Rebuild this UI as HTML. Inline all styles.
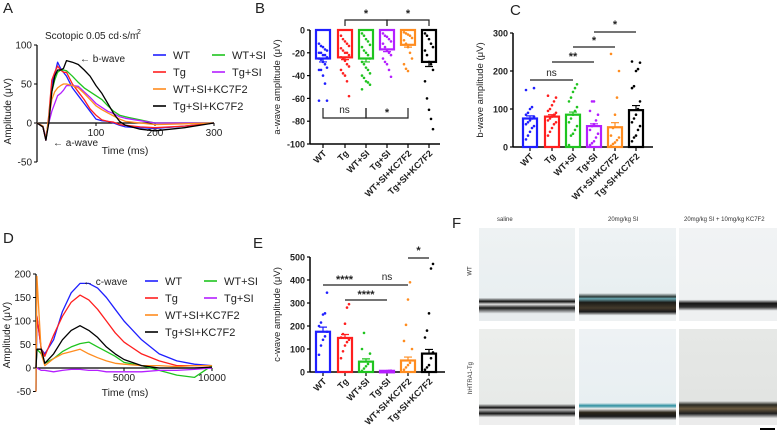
<!DOCTYPE html>
<html><head><meta charset="utf-8"><style>
body{margin:0;background:#fff;width:777px;height:432px;overflow:hidden;font-family:"Liberation Sans",Arial,sans-serif}
svg{position:absolute;left:0;top:0}
.img{position:absolute;overflow:hidden}
</style></head><body>
<svg id="fig" width="777" height="432" viewBox="0 0 777 432"></svg>
<script>
// ===== data =====
const groups=["WT","Tg","WT+SI","Tg+SI","WT+SI+KC7F2","Tg+SI+KC7F2"];
const colors=["#1f1fff","#ff1f1f","#1fc41f","#b41fff","#ff8c1f","#000000"];
// Panel A traces
const timeA=[0,10,15,20,25,30,35,40,45,50,60,70,80,90,100,110,120,130,140,150,175,200,250,300];
const aWT=[0,-5,-22,5,50,62,78,70,65,60,45,35,25,15,5,3,2,0,-3,-5,-6,-7,-4,0];
const aTg=[0,-5,-22,10,55,65,73,68,65,65,50,40,30,18,10,4,2,1,-2,-3,-5,-6,-4,0];
const aWTSI=[0,-4,-20,5,40,55,65,68,68,67,60,52,45,40,35,30,22,15,10,8,4,0,0,0];
const aTgSI=[0,-4,-18,0,15,25,35,38,42,48,48,47,40,33,25,20,15,12,8,6,3,0,0,0];
const aWTSIK=[0,-4,-20,5,30,40,45,48,50,50,48,45,38,30,22,17,13,9,5,2,0,-2,-1,0];
const aTgSIK=[0,-5,-22,0,40,60,68,68,70,80,78,75,68,60,48,38,25,12,2,-3,-8,-10,-6,0];
const ticksA=[100,200,300], yticksA=[100,50,0,-50];
// Panel D traces
const timeD=[0,50,300,500,1000,1500,2000,2500,3000,3500,4000,4500,5000,6000,7000,8000,9000,10000];
const dWT=[-50,110,40,30,60,120,160,180,180,170,150,125,100,60,30,15,8,5];
const dTg=[0,110,40,25,70,110,140,155,145,125,100,75,55,30,15,5,5,5];
const dWTSI=[0,40,30,10,20,35,45,52,55,45,35,25,12,5,-5,-15,-20,5];
const dTgSI=[0,0,-5,-5,-8,-5,-3,-3,-5,-5,-8,-8,-8,-8,-5,-5,-3,0];
const dWTSIK=[-50,195,30,5,20,30,35,40,30,22,15,10,8,5,5,3,5,5];
const dTgSIK=[0,40,40,10,30,60,80,90,80,65,45,30,18,5,0,0,0,2];
const ticksD=[5000,10000], yticksD=[200,150,100,50,0,-50];
// Panel B (a-wave) bars
const meanB=[-25,-24,-25,-17,-13,-28];
const semB=[3,2,3,2,2,4];
const dotsB=[[-12,-14,-15,-17,-18,-20,-20,-22,-22,-24,-25,-26,-28,-30,-33,-35,-35,-40,-47,-62,-62],
[-5,-8,-10,-12,-14,-16,-18,-20,-20,-22,-24,-25,-27,-30,-32,-35,-38,-40,-45,-58],
[-3,-5,-8,-10,-13,-15,-18,-20,-22,-25,-28,-30,-33,-35,-38,-40,-42,-45,-46,-48,-52],
[-3,-5,-6,-8,-10,-12,-15,-18,-20,-22,-25,-28,-30,-35,-41],
[-2,-3,-4,-5,-7,-9,-12,-15,-20,-25,-30,-34,-36],
[-3,-5,-8,-12,-15,-18,-22,-28,-30,-35,-45,-60,-70,-78,-87]];
const ticksB=[0,-20,-40,-60,-80,-100];
// Panel C (b-wave)
const meanC=[75,80,85,55,52,97];
const semC=[7,5,7,6,12,12];
const dotsC=[[20,30,40,50,55,60,65,70,75,80,85,90,100,105,155,150],
[30,40,50,60,65,70,75,80,85,90,95,100,110,120,130,135],
[5,30,35,45,55,65,75,85,95,105,120,130,145,155,165],
[5,10,15,25,35,45,55,60,70,85,95,120,120],
[3,8,12,18,25,30,50,85,130,200,245],
[15,25,30,45,55,65,75,85,100,120,155,160,200,205,222,225]];
const ticksC=[0,100,200,300];
// Panel E (c-wave)
const meanE=[175,148,45,5,50,80];
const semE=[20,15,12,1,15,18];
const dotsE=[[75,115,140,155,175,200,215,250,255,345],[60,90,115,130,140,150,165,210,280,295],[5,15,25,35,80,100,170],[2,3,4,5,6],[10,20,30,40,100,135,205,315,390],[10,20,30,60,85,150,180,255,450,470]];
const ticksE=[0,100,200,300,400,500];

// ===== helpers =====
const NS="http://www.w3.org/2000/svg";
const svg=document.getElementById('fig');
function el(tag,attrs,parent){const e=document.createElementNS(NS,tag);for(const k in attrs)e.setAttribute(k,attrs[k]);(parent||svg).appendChild(e);return e;}
function txt(x,y,s,attrs,parent){const t=el('text',Object.assign({x:x,y:y,'font-size':10,fill:'#222'},attrs),parent);t.textContent=s;return t;}

// panel letters
[["A",3,13],["B",255,13],["C",510,15],["D",3,243],["E",253,248],["F",452,228]].forEach(p=>{
  const t=txt(p[1],p[2],p[0],{'font-size':15});
  
  
});

// ===== line chart =====
function lineChart(cfg){
  const g=el('g',{});
  
  
  const xs=v=>cfg.x0+(v-cfg.xmin)/(cfg.xmax-cfg.xmin)*(cfg.x1-cfg.x0);
  const ys=v=>cfg.yZero-(v)*cfg.ky;
  const ya=el('line',{x1:cfg.x0,x2:cfg.x0,y1:ys(cfg.yticks[0]),y2:ys(cfg.yticks[cfg.yticks.length-1]),stroke:'#000','stroke-width':1.2},g);
  
  cfg.yticks.forEach(v=>{el('line',{x1:cfg.x0-3,x2:cfg.x0,y1:ys(v),y2:ys(v),stroke:'#000'},g);
    const t=txt(cfg.x0-5,ys(v)+3.5,String(v),{'text-anchor':'end','font-size':10},g);
    });
  const xa=el('line',{x1:cfg.x0,x2:cfg.x1,y1:ys(0),y2:ys(0),stroke:'#000','stroke-width':1.2},g);
  
  cfg.xticks.forEach(v=>{el('line',{x1:xs(v),x2:xs(v),y1:ys(0),y2:ys(0)+3,stroke:'#000'},g);
    const t=txt(xs(v),ys(0)+13,String(v),{'text-anchor':'middle','font-size':10},g);
    });
  const yt=txt(0,0,'Amplitude (μV)',{'text-anchor':'middle','font-size':10,transform:`translate(${cfg.x0-26},${ys(cfg.ytitleAt)}) rotate(-90)`},g);
  
  const xt=txt(cfg.xtitleX,cfg.xtitleY,cfg.xtitle,{'text-anchor':'middle','font-size':10.5},g);
  
  cfg.series.forEach((s,i)=>{
    const d=s.map((v,j)=>(j?'L':'M')+xs(cfg.time[j]).toFixed(1)+','+ys(v).toFixed(1)).join('');
    const p=el('path',{d:d,fill:'none',stroke:colors[i],'stroke-width':1.3,'stroke-linejoin':'round'},g);
    
    
  });
  const lx=[cfg.legX,cfg.legX+59], ly=cfg.legY;
  const pos=[[0,0],[1,0],[0,1],[1,1],[2,0],[3,0]];
  groups.forEach((gname,i)=>{
    const r=pos[i][0], c=pos[i][1];
    const lg=el('g',{},g);
    
    el('line',{x1:lx[c],x2:lx[c]+13,y1:ly+r*17,y2:ly+r*17,stroke:colors[i],'stroke-width':1.6},lg);
    txt(lx[c]+20,ly+r*17+4,gname,{'font-size':11},lg);
  });
  return {g,xs,ys};
}
lineChart({name:'chart-a',x0:37,x1:214,xmin:0,xmax:300,yZero:123,ky:0.78,time:timeA,
  series:[aWT,aTg,aWTSI,aTgSI,aWTSIK,aTgSIK],xticks:ticksA,yticks:yticksA,ytitleAt:15,
  xtitle:'Time (ms)',xtitleX:125,xtitleY:154,legX:153,legY:55});
{const t=txt(45,39,'Scotopic 0.05 cd·s/m',{'font-size':10});
 const s=txt(137,34,'2',{'font-size':7});
 const b=txt(80,62,'← b-wave',{'font-size':10});
 const a=txt(53,146,'← a-wave',{'font-size':10});}
lineChart({name:'chart-d',x0:36,x1:212,xmin:0,xmax:10000,yZero:368,ky:0.47,time:timeD,
  series:[dWT,dTg,dWTSI,dTgSI,dWTSIK,dTgSIK],xticks:ticksD,yticks:yticksD,ytitleAt:70,
  xtitle:'Time (ms)',xtitleX:125,xtitleY:396,legX:145,legY:281});
{const c=txt(83,285,'← c-wave',{'font-size':10});}

// ===== bar chart =====
function barChart(cfg){
  const g=el('g',{});
  
  
  const ys=v=>cfg.yZero-v*cfg.ky;
  const cx=[323,345,366,387,408,429].map(v=>v+cfg.dx);
  const ymin=Math.min(...cfg.ticks), ymax=Math.max(...cfg.ticks);
  const ya=el('line',{x1:cfg.x0,x2:cfg.x0,y1:ys(ymin),y2:ys(ymax),stroke:'#000','stroke-width':1.5},g);
  
  cfg.ticks.forEach(v=>{el('line',{x1:cfg.x0-3,x2:cfg.x0,y1:ys(v),y2:ys(v),stroke:'#000','stroke-width':1.2},g);
    const t=txt(cfg.x0-5,ys(v)+3.5,String(v),{'text-anchor':'end','font-size':9,'font-weight':'bold'},g);
    });
  const axY=ys(cfg.baseAt);
  const xa=el('line',{x1:cfg.x0,x2:cfg.x0+cfg.w,y1:axY,y2:axY,stroke:'#000','stroke-width':1.5},g);
  
  groups.forEach((gn,i)=>{
    el('line',{x1:cx[i],x2:cx[i],y1:axY,y2:axY+4,stroke:'#000','stroke-width':1.2},g);
    const t=txt(0,0,gn,{'text-anchor':'end','font-size':9,'font-weight':'bold',transform:`translate(${cx[i]+4},${axY+10}) rotate(-45)`},g);
    
    const m=cfg.mean[i];
    const y0=ys(0), y1=ys(m);
    const r=el('rect',{x:cx[i]-7,y:Math.min(y0,y1),width:14,height:Math.max(Math.abs(y1-y0),1.5),fill:'none',stroke:colors[i],'stroke-width':2.2},g);
    
    
    const se=cfg.sem[i]*Math.sign(m||1);
    const eb=el('path',{d:`M${cx[i]},${y1}L${cx[i]},${ys(m+se)}M${cx[i]-4},${ys(m+se)}L${cx[i]+4},${ys(m+se)}`,stroke:colors[i],'stroke-width':1.2,fill:'none'},g);
    
    cfg.dots[i].forEach((v,j)=>{
      const c=el('circle',{cx:cx[i]+((j%5)-2)*2,cy:ys(v),r:1.3,fill:colors[i]},g);
      
      
    });
  });
  const yt=txt(0,0,cfg.ytitle,{'text-anchor':'middle','font-size':9.5,transform:`translate(${cfg.x0-30},${ys(cfg.ytitleAt)}) rotate(-90)`},g);
  
  cfg.sig.forEach(s=>{
    const a=cx[s[0]], b=cx[s[1]];
    const d=s[4]?`M${a},${s[2]-s[4]}L${a},${s[2]}L${b},${s[2]}L${b},${s[2]-s[4]}`:`M${a},${s[2]}L${b},${s[2]}`;
    const p=el('path',{d:d,stroke:'#222','stroke-width':1.2,fill:'none'},g);
    
    const t=txt((a+b)/2,s[5]!==undefined?s[5]:s[2]-3,s[3],{'text-anchor':'middle','font-size':s[3]=='ns'?10:11,'font-weight':s[3]=='ns'?'normal':'bold'},g);
    
  });
}
barChart({name:'chart-b',x0:310,w:130,dx:0,yZero:30,ky:1.14,ticks:ticksB,baseAt:-100,mean:meanB,sem:semB,dots:dotsB,
  ytitle:'a-wave amplitude (μV)',ytitleAt:-50,
  sig:[[1,3,20,'*',-6,17],[3,5,20,'*',-6,17],[0,2,118,'ns',10,113],[2,4,118,'*',10,116]]});
barChart({name:'chart-c',x0:513,w:140,dx:207,yZero:147,ky:0.38,ticks:ticksC,baseAt:0,mean:meanC,sem:semC,dots:dotsC,
  ytitle:'b-wave amplitude (μV)',ytitleAt:150,
  sig:[[0,2,80,'ns',0,76],[1,3,62,'**',0,60],[2,4,47,'*',0,44],[3,5,32,'*',0,28]]});
barChart({name:'chart-e',x0:310,w:135,dx:0,yZero:372,ky:0.23,ticks:ticksE,baseAt:0,mean:meanE,sem:semE,dots:dotsE,
  ytitle:'c-wave amplitude (μV)',ytitleAt:250,
  sig:[[0,2,285,'****',0,283],[2,4,285,'ns',0,280],[1,3,300,'****',0,298],[4,5,258,'*',0,254]]});
</script>
<!-- Panel F micrographs -->
<div>
<div style="position:absolute;left:497px;top:217px;font-size:6px;color:#333">saline</div>
<div style="position:absolute;left:608px;top:217px;font-size:6px;color:#333">20mg/kg SI</div>
<div style="position:absolute;left:684px;top:217px;font-size:6px;color:#333;white-space:nowrap">20mg/kg SI + 10mg/kg KC7F2</div>
<div style="position:absolute;left:466px;top:268px;font-size:6px;color:#333;transform:rotate(-90deg)">WT</div>
<div style="position:absolute;left:455px;top:375px;font-size:6px;color:#333;transform:rotate(-90deg);white-space:nowrap">hHTRA1-Tg</div>
<div class="img" style="left:479px;top:228px;width:96px;height:93px;background:linear-gradient(#eef2f3 0,#e9eff1 75%,#111 79%,#ddd 82%,#1a1a1a 86%,#e8ecee 92%)"></div>
<div class="img" style="left:579px;top:228px;width:97px;height:93px;background:linear-gradient(#eef2f4 0,#e8eff1 70%,#2a3a38 74%,#6aa9b3 76%,#1c1c18 80%,#443a2c 86%,#1a1a1a 90%,#eef1f2 94%)"></div>
<div class="img" style="left:679px;top:228px;width:98px;height:93px;background:linear-gradient(#f1f3f4 0,#eef1f2 77%,#151515 81%,#333 85%,#eef0f1 89%)"></div>
<div class="img" style="left:479px;top:329px;width:96px;height:96px;background:linear-gradient(#eceeec 0,#e7eae8 78%,#151515 82%,#bbb 84%,#151515 88%,#eeeeee 92%)"></div>
<div class="img" style="left:579px;top:329px;width:97px;height:96px;background:linear-gradient(#eef2f4 0,#e8eff2 77%,#2c8fa0 80%,#eee 83%,#2a2418 87%,#1c1c1c 91%,#eef1f2 95%)"></div>
<div class="img" style="left:679px;top:329px;width:98px;height:96px;background:linear-gradient(#e6e8e6 0,#e2e4e2 75%,#2a2a22 79%,#6a5a40 83%,#1e1e1e 88%,#ebebeb 93%)"></div>
<div style="position:absolute;left:760px;top:428px;width:15px;height:2px;background:#000"></div>
</div>
</body></html>
